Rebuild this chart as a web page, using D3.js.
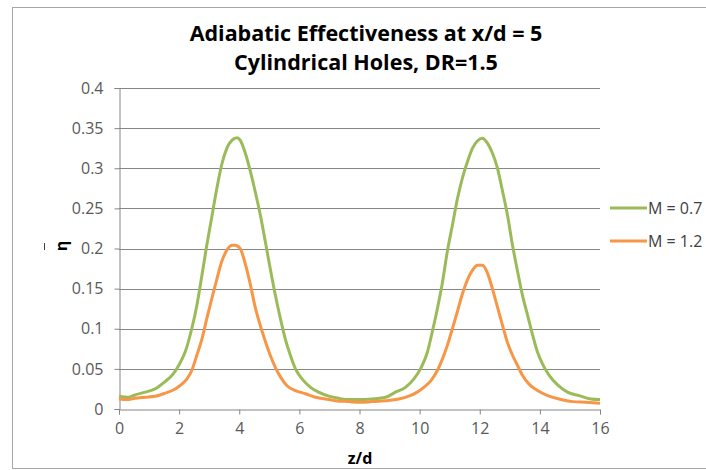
<!DOCTYPE html>
<html>
<head>
<meta charset="utf-8">
<script src="https://cdn.jsdelivr.net/npm/d3@7"></script>
<style>
body { margin: 0; background: #fff; }
text { font-family: "Open Sans", sans-serif; }
</style>
</head>
<body>
<div id="chart"></div>
<script>
const width = 706
const height = 470

// M = 0.7 (green)
const zM07 = [0,0.31,0.53,0.87,1.2,1.53,1.81,1.98,2.2,2.42,2.59,2.76,2.92,3.09,3.26,3.42,3.59,3.76,3.92,4.03,4.2,4.37,4.53,4.7,4.87,5.03,5.2,5.37,5.53,5.7,5.87,6.09,6.37,6.64,6.98,7.31,7.64,8.0,8.42,8.87,9.2,9.53,9.81,10.03,10.26,10.42,10.59,10.76,10.92,11.09,11.26,11.42,11.59,11.76,11.92,12.09,12.26,12.42,12.59,12.76,12.92,13.09,13.26,13.42,13.59,13.76,13.92,14.09,14.31,14.59,14.92,15.31,15.7,16]
const etaM07 = [0.0158,0.0146,0.0175,0.021,0.025,0.034,0.044,0.054,0.071,0.1,0.129,0.167,0.204,0.240,0.276,0.305,0.325,0.335,0.338,0.335,0.319,0.296,0.271,0.242,0.208,0.175,0.142,0.1125,0.0875,0.067,0.05,0.0375,0.027,0.021,0.016,0.0133,0.0117,0.0117,0.0125,0.0146,0.021,0.027,0.0375,0.05,0.071,0.096,0.125,0.158,0.196,0.229,0.2625,0.2875,0.308,0.325,0.334,0.3375,0.331,0.319,0.3,0.271,0.242,0.204,0.171,0.142,0.117,0.092,0.071,0.056,0.042,0.03,0.021,0.0167,0.0125,0.0117]

// M = 1.2 (orange)
const zM12 = [0,0.31,0.53,0.87,1.2,1.53,1.87,2.09,2.26,2.42,2.59,2.76,2.92,3.09,3.26,3.42,3.59,3.76,3.86,4.03,4.2,4.37,4.53,4.7,4.87,5.03,5.2,5.37,5.59,5.87,6.2,6.53,6.87,7.2,7.64,8.0,8.42,8.87,9.31,9.64,9.92,10.14,10.37,10.59,10.76,10.92,11.09,11.26,11.42,11.59,11.76,11.92,12.09,12.26,12.42,12.59,12.76,12.92,13.09,13.26,13.42,13.64,13.92,14.26,14.64,15.09,15.53,16]
const etaM12 = [0.0125,0.0117,0.0133,0.0146,0.0158,0.0196,0.025,0.031,0.0375,0.048,0.067,0.0875,0.1125,0.138,0.1625,0.184,0.198,0.204,0.204,0.2,0.181,0.155,0.127,0.104,0.084,0.067,0.052,0.04,0.029,0.023,0.019,0.0146,0.0125,0.0104,0.0092,0.0083,0.0092,0.0104,0.0125,0.016,0.021,0.027,0.035,0.048,0.0625,0.079,0.1,0.122,0.143,0.161,0.173,0.179,0.179,0.169,0.15,0.127,0.104,0.083,0.067,0.054,0.042,0.031,0.023,0.0167,0.0125,0.0092,0.0083,0.0071]

const xTicks = [0,2,4,6,8,10,12,14,16]
const yTicks = [0,0.05,0.1,0.15,0.2,0.25,0.3,0.35,0.4]

const series = [
{ name:"M = 0.7", color:"#9bbb59", z:zM07, eta:etaM07 },
{ name:"M = 1.2", color:"#f79646", z:zM12, eta:etaM12 }
]

const gridColor = "#868686"
const labelColor = "#595959"

const svg = d3.select("#chart")
.append("svg")
.attr("width",width)
.attr("height",height)

// chart border
svg.append("rect")
.attr("x",12.5)
.attr("y",7.5)
.attr("width",710)
.attr("height",461)
.attr("fill","white")
.attr("stroke","#a6a6a6")

const x = d3.scaleLinear().domain([0,16]).range([119,600])
const y = d3.scaleLinear().domain([0,0.4]).range([409,88])

// gridlines
svg.append("g")
.selectAll("line")
.data(yTicks.slice(1))
.enter()
.append("line")
.attr("x1",x(0))
.attr("x2",x(16))
.attr("y1",d=>Math.round(y(d))+0.5)
.attr("y2",d=>Math.round(y(d))+0.5)
.attr("stroke",gridColor)

const xAxis = svg.append("g")
.attr("transform",`translate(0,${Math.round(y(0))+0.5})`)
.call(d3.axisBottom(x).tickValues(xTicks).tickSize(5).tickPadding(8).tickFormat(d3.format("d")))
const yAxis = svg.append("g")
.attr("transform",`translate(${Math.round(x(0))+0.5},0)`)
.call(d3.axisLeft(y).tickValues(yTicks).tickSize(5).tickPadding(11).tickFormat(d=>d===0?"0":String(d)))

for (const ax of [xAxis,yAxis]) {
ax.select(".domain").attr("stroke",gridColor)
ax.selectAll(".tick line").attr("stroke",gridColor)
ax.selectAll(".tick text")
.attr("fill",labelColor)
.style("font-family","'Open Sans', sans-serif")
.style("font-size","16px")
}

// lines
const line = d3.line()
.x(d=>x(d[0]))
.y(d=>y(d[1]))
.curve(d3.curveMonotoneX)

series.forEach(s=>{
svg.append("path")
.datum(s.z.map((z,i)=>[z,s.eta[i]]))
.attr("fill","none")
.attr("stroke",s.color)
.attr("stroke-width",3)
.attr("stroke-linejoin","round")
.attr("d",line)
})

// legend
const legend = svg.selectAll(".legend")
.data(series)
.enter()
.append("g")
.attr("transform",(d,i)=>`translate(610,${208+i*33})`)

legend.append("line")
.attr("x1",0)
.attr("x2",37)
.attr("stroke",d=>d.color)
.attr("stroke-width",3)

legend.append("text")
.attr("x",38)
.attr("dy","0.35em")
.attr("fill","#404040")
.style("font-size","16px")
.text(d=>d.name)

// title
const titles = ["Adiabatic Effectiveness at x/d = 5","Cylindrical Holes, DR=1.5"]
svg.selectAll(".title")
.data(titles)
.enter()
.append("text")
.attr("x",366)
.attr("y",(d,i)=>41+i*29)
.attr("text-anchor","middle")
.style("font-size","21.5px")
.style("font-weight","bold")
.text(d=>d)

// axis titles
svg.append("text")
.attr("x",360)
.attr("y",464)
.attr("text-anchor","middle")
.style("font-size","16px")
.style("font-weight","bold")
.text("z/d")

svg.append("text")
.attr("transform","translate(61,246) rotate(-90)")
.attr("text-anchor","middle")
.attr("dy","0.35em")
.style("font-size","16px")
.style("font-weight","bold")
.text("η")

svg.append("line")
.attr("x1",44.5)
.attr("x2",44.5)
.attr("y1",243)
.attr("y2",250)
.attr("stroke","#404040")
</script>
</body>
</html>
